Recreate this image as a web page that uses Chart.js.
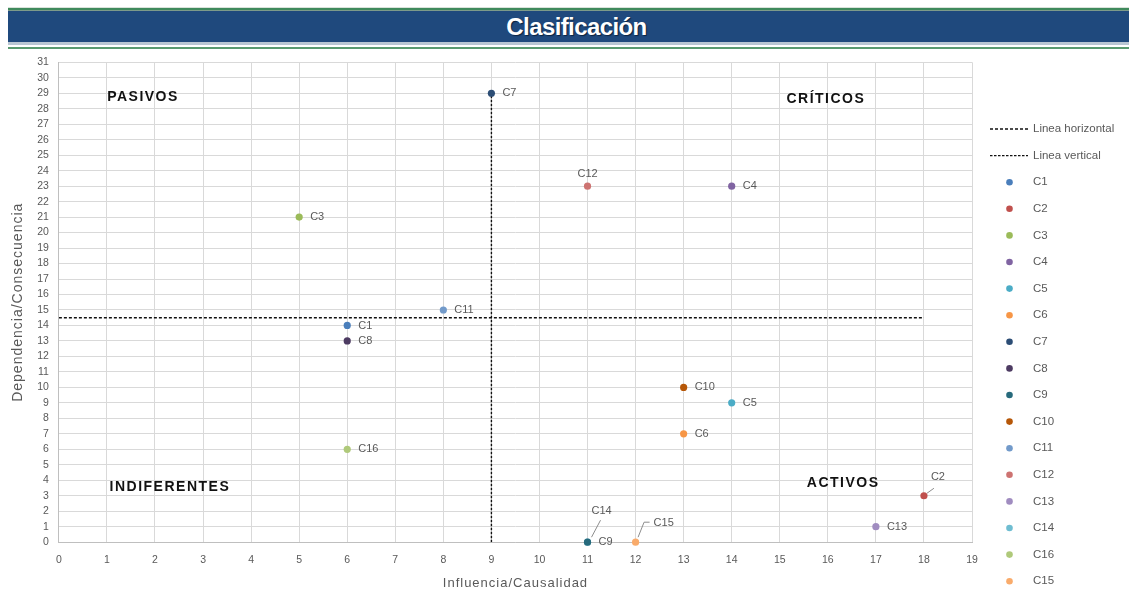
<!DOCTYPE html>
<html>
<head>
<meta charset="utf-8">
<script src="https://cdn.jsdelivr.net/npm/chart.js@4.4.1/dist/chart.umd.min.js"></script>
<style>
  html, body { margin: 0; padding: 0; background: #fff; width: 1129px; height: 592px; overflow: hidden; }
  #titlebar { position: absolute; left: 8px; top: 7px; width: 1121px; }
  #titlebar .l1 { height: 1px; background: #d9e2da; }
  #titlebar .g { height: 2px; background: #3f8a5c; }
  #titlebar .l2 { height: 1px; background: #7d9a8a; }
  #titlebar .band { height: 31px; background: #1f497d; color: #fff; font: bold 24px Arial, "Liberation Sans", sans-serif;
    letter-spacing: -0.6px; line-height: 31px; text-align: center; padding-left: 16px; text-shadow: 1px 1px 1px #0c2340; }
  #titlebar .l3 { height: 3px; background: #b9c6d3; }
  #titlebar .w { height: 2px; background: #fff; }
  #titlebar .g2 { height: 2px; background: #5a9a70; }
  #wrap { position: absolute; left: 0; top: 46px; width: 1129px; height: 546px; }
</style>
</head>
<body>
<div id="titlebar">
  <div class="l1"></div><div class="g"></div><div class="l2"></div>
  <div class="band">Clasificación</div>
  <div class="l3"></div><div class="w"></div><div class="g2"></div>
</div>
<div id="wrap"><canvas id="chart"></canvas></div>
<script>
// categories and values
const names = ['C1', 'C2', 'C3', 'C4', 'C5', 'C6', 'C7', 'C8', 'C9', 'C10', 'C11', 'C12', 'C13', 'C14', 'C16', 'C15'];
const influencia = [6, 18, 5, 14, 14, 13, 9, 6, 11, 13, 8, 11, 17, 11, 6, 12];
const dependencia = [14, 3, 21, 23, 9, 7, 29, 13, 0, 10, 15, 23, 1, 0, 6, 0];
const colors = ['#4a7ebb', '#c0504d', '#9bbb59', '#8064a2', '#4bacc6', '#f79646', '#2c4d75', '#4d3b62',
                '#276a7c', '#b65708', '#729aca', '#cd7371', '#a08cc0', '#6fbdd1', '#afc97a', '#f9ab6b'];

// reference lines
const hLineX = [0, 18];
const hLineY = [14.5, 14.5];
const vLineX = [9, 9];
const vLineY = [0, 29];

// quadrant names and where they sit (data units)
const quadrantNames = ['PASIVOS', 'CRÍTICOS', 'INDIFERENTES', 'ACTIVOS'];
const quadrantAt = [[1.75, 28.78], [15.96, 28.65], [2.31, 3.55], [16.32, 3.81]];

// how some point labels are placed (pixels from the point)
const labelPlace = {
  C12: { dx: 0, dy: -12, align: 'center' },
  C2:  { dx: 14, dy: -19, align: 'center', leader: [[3, -2.5], [10, -7.5]] },
  C14: { dx: 14, dy: -31, align: 'center', leader: [[4, -5], [13, -22]] },
  C15: { dx: 18, dy: -19, align: 'left', leader: [[2.5, -5], [8.5, -20], [14, -20]] }
};

Chart.defaults.font.family = 'Arial, "Liberation Sans", sans-serif';
Chart.defaults.color = '#595959';

const lineSets = [
  { label: 'Linea horizontal', data: hLineX.map((x, i) => ({ x: x, y: hLineY[i] })), dash: [3, 2] },
  { label: 'Linea vertical', data: vLineX.map((x, i) => ({ x: x, y: vLineY[i] })), dash: [2.5, 1.5] }
].map(d => ({
  label: d.label, data: d.data, showLine: true, borderColor: '#111', backgroundColor: '#111',
  borderWidth: 1.4, borderDash: d.dash, pointRadius: 0, order: 1
}));

const pointSets = names.map((n, i) => ({
  label: n,
  data: [{ x: influencia[i], y: dependencia[i] }],
  backgroundColor: colors[i], borderColor: colors[i], borderWidth: 0,
  pointRadius: 3.6, order: 0, clip: false
}));

// axis titles in the picture are spaced out a little
const titleSpacing = {
  id: 'titleSpacing',
  beforeDraw(chart) { chart.ctx.letterSpacing = '1px'; },
  beforeDatasetsDraw(chart) { chart.ctx.letterSpacing = '0px'; }
};

const extras = {
  id: 'extras',
  afterDatasetsDraw(chart) {
    const ctx = chart.ctx;
    const xs = chart.scales.x, ys = chart.scales.y;
    ctx.save();
    // quadrant names
    ctx.font = 'bold 14px Arial, "Liberation Sans", sans-serif';
    ctx.letterSpacing = '1.5px';
    ctx.fillStyle = '#111';
    ctx.textAlign = 'center';
    ctx.textBaseline = 'middle';
    quadrantNames.forEach((q, i) => {
      ctx.fillText(q, xs.getPixelForValue(quadrantAt[i][0]), ys.getPixelForValue(quadrantAt[i][1]));
    });
    ctx.letterSpacing = '0px';
    // point labels
    ctx.font = '11px Arial, "Liberation Sans", sans-serif';
    ctx.fillStyle = '#595959';
    chart.data.datasets.forEach((ds, i) => {
      if (ds.showLine) return;
      const pt = chart.getDatasetMeta(i).data[0];
      const p = labelPlace[ds.label] || { dx: 11, dy: 0, align: 'left' };
      if (p.leader) {
        ctx.strokeStyle = '#8c8c8c';
        ctx.lineWidth = 1;
        ctx.beginPath();
        p.leader.forEach((o, k) => k ? ctx.lineTo(pt.x + o[0], pt.y + o[1]) : ctx.moveTo(pt.x + o[0], pt.y + o[1]));
        ctx.stroke();
      }
      ctx.textAlign = p.align;
      ctx.fillText(ds.label, pt.x + p.dx, pt.y + p.dy);
    });
    ctx.restore();
  }
};

const sideLegend = {
  id: 'sideLegend',
  afterDraw(chart) {
    const ctx = chart.ctx;
    const left = chart.chartArea.right;
    ctx.save();
    ctx.letterSpacing = '0px';
    ctx.font = '11.5px Arial, "Liberation Sans", sans-serif';
    ctx.fillStyle = '#595959';
    ctx.textBaseline = 'middle';
    chart.data.datasets.forEach((ds, i) => {
      const y = 83 + i * 26.6;
      if (ds.showLine) {
        ctx.strokeStyle = ds.borderColor;
        ctx.lineWidth = 1.3;
        ctx.setLineDash(ds.borderDash);
        ctx.beginPath();
        ctx.moveTo(left + 18, y);
        ctx.lineTo(left + 56, y);
        ctx.stroke();
        ctx.setLineDash([]);
      } else {
        ctx.beginPath();
        ctx.fillStyle = ds.backgroundColor;
        ctx.arc(left + 37.5, y, 3.3, 0, Math.PI * 2);
        ctx.fill();
      }
      ctx.fillStyle = '#595959';
      ctx.fillText(ds.label, left + 61, y);
    });
    ctx.restore();
  }
};

new Chart(document.getElementById('chart'), {
  type: 'scatter',
  data: { datasets: lineSets.concat(pointSets) },
  options: {
    responsive: true,
    maintainAspectRatio: false,
    animation: false,
    layout: { padding: { left: 4, right: 157, top: 0, bottom: 0 } },
    plugins: { legend: { display: false }, tooltip: { enabled: false } },
    scales: {
      x: {
        type: 'linear', min: 0, max: 19,
        ticks: { stepSize: 1, autoSkip: false, maxRotation: 0, padding: 12, font: { size: 10.5 }, z: 1 },
        grid: { color: '#d9d9d9', drawTicks: false },
        border: { color: '#bfbfbf' },
        title: { display: true, text: 'Influencia/Causalidad', font: { size: 13 }, padding: { top: -3.4, bottom: 1 } }
      },
      y: {
        min: 0, max: 31,
        ticks: { stepSize: 1, autoSkip: false, padding: 10, font: { size: 10.5 }, z: 1 },
        grid: { color: '#d9d9d9', drawTicks: false },
        border: { color: '#bfbfbf' },
        title: { display: true, text: 'Dependencia/Consecuencia', font: { size: 14 }, padding: { top: 5.6, bottom: 0.8 } }
      }
    }
  },
  plugins: [titleSpacing, extras, sideLegend]
});
</script>
</body>
</html>
